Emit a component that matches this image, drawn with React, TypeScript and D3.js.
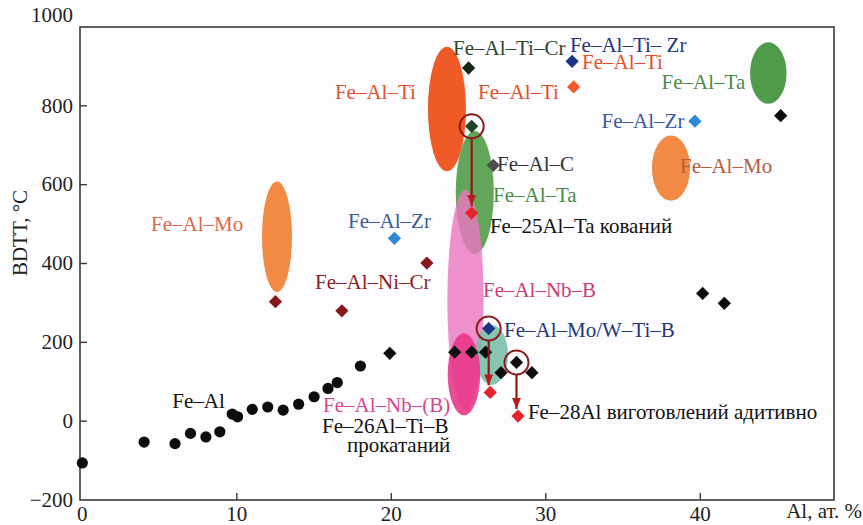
import * as d3 from "d3";

// Fe–Al base alloys (black circles)
const feAlAl = [0, 4, 6, 7, 8, 8.9, 9.7, 10.05, 11, 12, 13, 14, 15, 15.9, 16.5, 18];
const feAlBdtt = [-106, -53, -57, -31, -40, -27, 18, 11, 30, 36, 28, 43, 62, 83, 98, 140];

// diamonds: [Al, BDTT, colour key]
const diamonds: [number, number, string][] = [
  [19.9, 172, "black"], [24.1, 175, "black"], [25.2, 175, "black"], [26.1, 175, "black"],
  [27.1, 123, "black"], [28.1, 149, "black"], [29.1, 123, "black"],
  [40.15, 324, "black"], [41.55, 299, "black"], [45.2, 775, "black"],
  [25.0, 896, "darkblack"],
  [20.2, 464, "sky"], [39.65, 761, "sky"],
  [31.7, 913, "navy"], [26.3, 235, "navy"],
  [31.8, 848, "orange"],
  [25.2, 528, "red"], [26.4, 73, "red"], [28.2, 13, "red"],
  [12.5, 303, "maroon"], [16.8, 280, "maroon"], [22.3, 401, "maroon"],
  [26.6, 649, "gray"],
  [25.2, 748, "green"],
];

const DIAMOND_COLORS: Record<string, string> = {
  black: "#0d0d0d", darkblack: "#15261a", sky: "#2f8ad6", navy: "#1b3484",
  orange: "#ee5a28", red: "#e4242a", maroon: "#851a1c", gray: "#4d4d4d", green: "#1d4424",
};

// composition fields: [Al centre, BDTT centre, Al half-width, BDTT half-height, fill, opacity]
const fields: [number, number, number, number, string, number][] = [
  [12.6, 468, 0.97, 140, "#f28a44", 1],
  [23.6, 792, 1.23, 158, "#ef5a26", 1],
  [25.4, 580, 1.23, 156, "#62a65a", 1],
  [24.8, 307, 1.17, 280, "#ea78bf", 0.82],
  [26.5, 168, 1.05, 76, "#74bca4", 0.85],
  [24.7, 119, 1.05, 104, "#e8388a", 0.9],
  [44.4, 883, 1.18, 78, "#4f9b4a", 1],
  [38.1, 642, 1.23, 83, "#f28a44", 1],
];

// before -> after processing (ringed point, arrow to new point)
const shifts: [number, number, number, number][] = [
  [25.2, 748, 25.2, 528],
  [26.3, 235, 26.4, 73],
  [28.1, 149, 28.2, 13],
];

// labels: [text, Al, BDTT, colour]
const labels: [string, number, number, string][] = [
  ["Fe–Al–Mo", 4.45, 483, "#dc6a48"],
  ["Fe–Al–Ti", 16.35, 817, "#e5502a"],
  ["Fe–Al–Ti–Cr", 23.99, 929, "#2c482c"],
  ["Fe–Al–Ti– Zr", 31.56, 936, "#25367a"],
  ["Fe–Al–Ti", 32.34, 894, "#e5502a"],
  ["Fe–Al–Ti", 25.61, 817, "#e5502a"],
  ["Fe–Al–Ta", 37.49, 842, "#4a8c48"],
  ["Fe–Al–Zr", 33.61, 744, "#3a5aa0"],
  ["Fe–Al–Mo", 38.68, 630, "#b65e3c"],
  ["Fe–Al–C", 26.84, 635, "#333333"],
  ["Fe–Al–Ta", 26.58, 556, "#4a8c48"],
  ["Fe–25Al–Ta кований", 26.38, 477, "#111111"],
  ["Fe–Al–Zr", 17.2, 490, "#3a5aa0"],
  ["Fe–Al–Ni–Cr", 15.06, 335, "#8b2020"],
  ["Fe–Al–Nb–B", 25.93, 315, "#cc3d72"],
  ["Fe–Al–Mo/W–Ti–B", 27.29, 213, "#25367a"],
  ["Fe–Al–Nb–(B)", 15.58, 24, "#d4488e"],
  ["Fe–26Al–Ti–B", 15.51, -31, "#111111"],
  ["прокатаний", 17.13, -77, "#111111"],
  ["Fe–28Al виготовлений адитивно", 28.84, 5.5, "#111111"],
  ["Fe–Al", 5.82, 33, "#111111"],
];

const xTicks = [0, 10, 20, 30, 40];
const yTicks = [-200, 0, 200, 400, 600, 800, 1000];

const FONT = "Liberation Serif";
const FS = 21;
const RING = "#8b1a1a";
const AXIS = "#3a3a3a";

const W = 863, H = 525;
const margin = { top: 27, right: 29, bottom: 25, left: 80 };
const w = W - margin.left - margin.right;
const h = H - margin.top - margin.bottom;

export default function App() {
  const x = d3.scaleLinear().domain([-0.15, 48.65]).range([0, w]);
  const y = d3.scaleLinear().domain([-200, 1000]).range([h, 0]);
  const diamond = d3.symbol(d3.symbolSquare, 88)() as string;
  const r = 12;

  return (
    <svg width={W} height={H} fontFamily={FONT}
      style={{ display: "block", position: "absolute", left: 0, top: 0, background: "#fff" }}>
      <defs>
        <marker id="arrow" viewBox="0 -5 10 10" refX={10} refY={0} markerWidth={5} markerHeight={5}
          markerUnits="strokeWidth" orient="auto">
          <path d="M0,-4L10,0L0,4Z" fill="#b81c1c" />
        </marker>
      </defs>

      <text transform="rotate(-90)" x={-233} y={27} textAnchor="middle" fontSize={FS} fill="#222">
        BDTT, °C
      </text>
      <text x={862} y={518} textAnchor="end" fontSize={FS} fill="#222">Al, ат. %</text>

      <g transform={`translate(${margin.left},${margin.top})`}>
        <rect width={w} height={h} fill="#fdfdff" stroke={AXIS} strokeWidth={1.6} />

        {/* x ticks, inward */}
        {xTicks.map((t) => (
          <g key={t} transform={`translate(${x(t)},${h})`}>
            {t !== 0 && <line y2={-7} stroke={AXIS} strokeWidth={1.4} />}
            <text y={21} textAnchor="middle" fontSize={FS} fill="#222">{t}</text>
          </g>
        ))}

        {/* y ticks, inward */}
        {yTicks.map((t) => (
          <g key={t} transform={`translate(0,${y(t)})`}>
            {t !== 1000 && t !== -200 && <line x2={7} stroke={AXIS} strokeWidth={1.4} />}
            <text x={-7} dy={t === 1000 ? "-0.22em" : "0.32em"} textAnchor="end" fontSize={FS} fill="#222">
              {String(t).replace("-", "−")}
            </text>
          </g>
        ))}

        {/* composition fields */}
        {fields.map(([cx, cy, rx, ry, fill, op], i) => (
          <ellipse key={i} cx={x(cx)} cy={y(cy)} rx={x(cx + rx) - x(cx)} ry={y(cy) - y(cy + ry)}
            fill={fill} opacity={op} />
        ))}

        {/* Fe–Al circles */}
        {feAlAl.map((a, i) => (
          <circle key={i} cx={x(a)} cy={y(feAlBdtt[i])} r={5.6} fill="#0d0d0d" />
        ))}

        {/* diamonds */}
        {diamonds.map(([a, b, c], i) => (
          <path key={i} d={diamond} transform={`translate(${x(a)},${y(b)}) rotate(45)`} fill={DIAMOND_COLORS[c]} />
        ))}

        {/* rings + arrows */}
        {shifts.map(([a0, b0, , b1], i) => (
          <g key={i}>
            <circle cx={x(a0)} cy={y(b0)} r={r} fill="none" stroke={RING} strokeWidth={2} />
            <line x1={x(a0)} y1={y(b0) + r} x2={x(a0)} y2={y(b1) - 7}
              stroke={RING} strokeWidth={2.2} markerEnd="url(#arrow)" />
          </g>
        ))}

        {/* labels */}
        {labels.map(([t, a, b, c], i) => (
          <text key={i} x={x(a)} y={y(b)} fontSize={FS} fill={c}>{t}</text>
        ))}
      </g>
    </svg>
  );
}
